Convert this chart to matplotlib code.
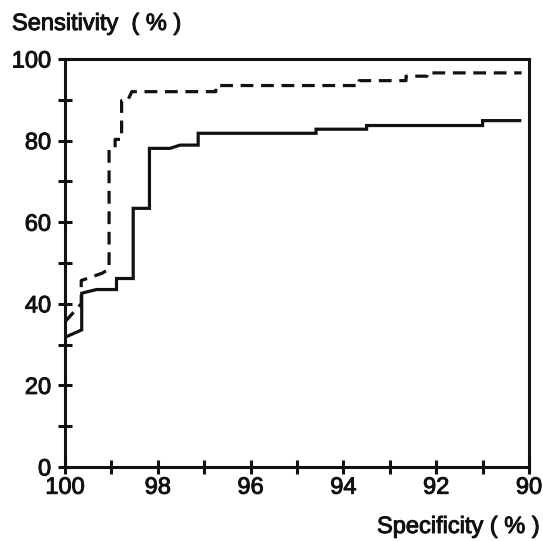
import matplotlib
matplotlib.use("Agg")
import matplotlib.pyplot as plt
import matplotlib.patheffects as pe
from matplotlib.ticker import MultipleLocator

# Data (specificity %, sensitivity %)
spec_solid = [100, 99.64, 99.64, 99.32, 98.89, 98.89, 98.53, 98.53, 98.18, 98.18,
              97.74, 97.52, 97.13, 97.13, 94.59, 94.59, 93.5, 93.5, 91.0, 91.0, 90.2]
sens_solid = [31.8, 33.6, 42.6, 43.5, 43.5, 46.2, 46.2, 63.4, 63.4, 78.1,
              78.1, 78.9, 78.9, 81.8, 81.8, 82.8, 82.8, 83.7, 83.7, 84.9, 84.9]

spec_dash = [100, 99.65, 99.65, 99.2, 99.05, 99.05, 98.92, 98.92, 98.78, 98.78,
             98.65, 98.56, 96.75, 96.75, 93.66, 93.66, 92.65, 92.65, 92.2, 92.2, 90.16]
sens_dash = [35.6, 40.0, 45.7, 47.5, 48.5, 77.7, 78.0, 80.3, 80.3, 89.8,
             89.8, 92.0, 92.0, 93.5, 93.5, 94.7, 94.7, 95.8, 95.8, 96.6, 96.6]

x_ticks = [100, 98, 96, 94, 92, 90]
y_ticks = [0, 20, 40, 60, 80, 100]

plt.rcParams['font.family'] = ['Liberation Sans', 'DejaVu Sans']

INK = '#111111'
FS = 17
heavy = [pe.withStroke(linewidth=0.7, foreground=INK)]

fig = plt.figure(figsize=(5.43, 5.41), dpi=100)
ax = fig.add_axes([0.1197, 0.1368, 0.9742 - 0.1197, 0.8909 - 0.1368])

ax.plot(spec_solid, sens_solid, color=INK, lw=2.3, solid_joinstyle='miter')
ax.plot(spec_dash, sens_dash, color=INK, lw=2.3, dashes=(4, 2.4))

ax.set_xlim(100, 90)
ax.set_ylim(0, 100)
ax.set_xticks(x_ticks)
ax.set_yticks(y_ticks)
ax.xaxis.set_minor_locator(MultipleLocator(1))
ax.yaxis.set_minor_locator(MultipleLocator(10))
ax.set_xticklabels([str(v) for v in x_ticks])
ax.set_yticklabels([str(v) for v in y_ticks])

for s in ax.spines.values():
    s.set_linewidth(2.2)
    s.set_color(INK)

ax.tick_params(which='both', direction='inout', length=10, width=2.2, color=INK)
ax.tick_params(axis='both', which='major', labelsize=FS, colors=INK)
ax.tick_params(axis='y', which='major', pad=5)
ax.tick_params(axis='x', which='major', pad=2)
for lab in ax.get_xticklabels() + ax.get_yticklabels():
    lab.set_path_effects(heavy)

fig.text(12 / 543, 1 - 30 / 541, 'Sensitivity  ( % )', fontsize=FS, color=INK,
         ha='left', va='baseline', path_effects=heavy)
fig.text(541 / 543, 1 - 533 / 541, 'Specificity ( % )', fontsize=FS, color=INK,
         ha='right', va='baseline', path_effects=heavy)

fig.savefig('out.png', dpi=100)
